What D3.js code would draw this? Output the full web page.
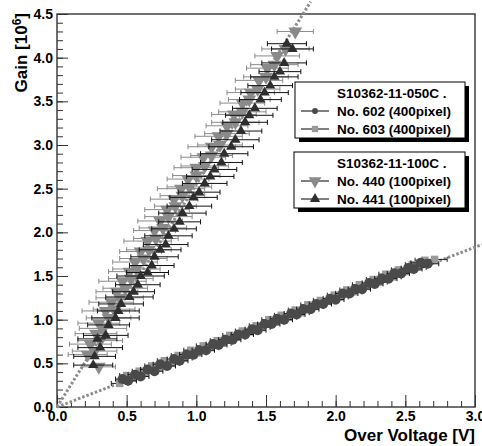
<!DOCTYPE html>
<html>
<head>
<meta charset="utf-8">
<script src="https://cdn.jsdelivr.net/npm/d3@7"></script>
<style>
  body { margin: 0; background: #fff; }
  text { font-family: "Liberation Sans", Arial, Helvetica, sans-serif; font-weight: bold; }
</style>
</head>
<body>
<div id="d3-container"></div>
<script>
/**
 * CONSTANTS AND GLOBALS
 * */
const width = 482,
  height = 446,
  margin = { top: 14, bottom: 39, left: 57, right: 7 };

/**
 * DATA  [over voltage (V), gain (10^6), x error (V)]
 * */
// S10362-11-050C, No. 602 (400pixel)
const no602 = [
  [0.47,0.32,0.05],[0.51,0.30,0.06],[0.56,0.37,0.05],[0.60,0.35,0.06],[0.65,0.43,0.05],[0.70,0.41,0.06],
  [0.74,0.49,0.05],[0.79,0.47,0.06],[0.84,0.55,0.05],[0.88,0.53,0.06],[0.93,0.60,0.05],[0.98,0.60,0.06],
  [1.02,0.65,0.05],[1.07,0.65,0.06],[1.12,0.72,0.05],[1.16,0.71,0.06],[1.21,0.77,0.05],[1.26,0.77,0.06],
  [1.30,0.83,0.05],[1.35,0.83,0.06],[1.40,0.89,0.05],[1.44,0.88,0.06],[1.49,0.95,0.05],[1.54,0.95,0.06],
  [1.58,1.01,0.05],[1.63,1.00,0.06],[1.68,1.07,0.05],[1.72,1.06,0.06],[1.77,1.12,0.05],[1.82,1.12,0.06],
  [1.86,1.18,0.05],[1.91,1.18,0.06],[1.96,1.24,0.05],[2.00,1.23,0.06],[2.05,1.30,0.05],[2.10,1.30,0.06],
  [2.14,1.35,0.05],[2.19,1.35,0.06],[2.24,1.42,0.05],[2.28,1.41,0.06],[2.33,1.47,0.05],[2.38,1.47,0.06],
  [2.42,1.53,0.05],[2.47,1.53,0.06],[2.52,1.59,0.05],[2.56,1.58,0.06],[2.61,1.65,0.07],[2.66,1.64,0.08]
];
// S10362-11-050C, No. 603 (400pixel)
const no603 = [
  [0.45,0.27,0.06],[0.50,0.36,0.05],[0.54,0.33,0.06],[0.59,0.41,0.05],[0.63,0.39,0.06],[0.68,0.47,0.05],
  [0.73,0.45,0.06],[0.77,0.53,0.05],[0.82,0.50,0.06],[0.87,0.59,0.05],[0.91,0.56,0.06],[0.96,0.65,0.05],
  [1.01,0.62,0.06],[1.05,0.70,0.05],[1.10,0.68,0.06],[1.15,0.76,0.05],[1.19,0.73,0.06],[1.24,0.82,0.05],
  [1.29,0.80,0.06],[1.33,0.87,0.05],[1.38,0.86,0.06],[1.43,0.93,0.05],[1.47,0.91,0.06],[1.52,1.00,0.05],
  [1.57,0.97,0.06],[1.61,1.05,0.05],[1.66,1.03,0.06],[1.71,1.11,0.05],[1.75,1.08,0.06],[1.80,1.17,0.05],
  [1.85,1.15,0.06],[1.89,1.22,0.05],[1.94,1.21,0.06],[1.99,1.28,0.05],[2.03,1.26,0.06],[2.08,1.34,0.05],
  [2.13,1.32,0.06],[2.17,1.40,0.05],[2.22,1.38,0.06],[2.27,1.46,0.05],[2.31,1.43,0.06],[2.36,1.52,0.05],
  [2.41,1.49,0.06],[2.45,1.57,0.05],[2.50,1.55,0.06],[2.55,1.63,0.05],[2.59,1.60,0.06],[2.64,1.68,0.07],
  [2.71,1.69,0.09]
];
// S10362-11-100C, No. 440 (100pixel)
const no440 = [
  [0.30,0.46,0.12],[0.22,0.60,0.14],[0.27,0.64,0.16],[0.24,0.72,0.15],[0.31,0.76,0.16],[0.28,0.84,0.15],
  [0.33,0.90,0.17],[0.30,0.96,0.15],[0.37,1.02,0.16],[0.35,1.10,0.17],[0.41,1.12,0.15],[0.39,1.20,0.16],
  [0.45,1.25,0.17],[0.43,1.32,0.15],[0.49,1.36,0.16],[0.47,1.44,0.17],[0.53,1.47,0.16],[0.52,1.55,0.15],
  [0.57,1.58,0.17],[0.56,1.66,0.16],[0.62,1.70,0.17],[0.60,1.78,0.15],[0.66,1.80,0.16],[0.65,1.90,0.17],
  [0.71,1.93,0.16],[0.70,2.02,0.15],[0.76,2.05,0.17],[0.74,2.13,0.16],[0.80,2.18,0.17],[0.79,2.26,0.16],
  [0.85,2.30,0.15],[0.84,2.38,0.17],[0.90,2.42,0.16],[0.89,2.50,0.17],[0.95,2.52,0.16],[0.94,2.61,0.15],
  [1.00,2.65,0.17],[1.00,2.74,0.16],[1.06,2.76,0.17],[1.05,2.86,0.16],[1.11,2.88,0.15],[1.11,2.98,0.17],
  [1.17,3.00,0.16],[1.16,3.10,0.17],[1.22,3.13,0.16],[1.22,3.22,0.15],[1.28,3.26,0.17],[1.27,3.35,0.16],
  [1.33,3.38,0.17],[1.33,3.48,0.16],[1.38,3.52,0.15],[1.39,3.60,0.17],[1.44,3.64,0.16],[1.45,3.74,0.17],
  [1.50,3.78,0.16],[1.51,3.88,0.15],[1.56,3.92,0.17],[1.58,4.02,0.16],[1.64,4.10,0.17],[1.71,4.30,0.13]
];
// S10362-11-100C, No. 441 (100pixel)
const no441 = [
  [0.26,0.48,0.14],[0.27,0.58,0.15],[0.31,0.68,0.16],[0.29,0.78,0.14],[0.35,0.82,0.16],[0.37,0.94,0.15],
  [0.42,1.02,0.17],[0.44,1.10,0.15],[0.46,1.18,0.16],[0.52,1.26,0.17],[0.55,1.32,0.15],[0.58,1.40,0.16],
  [0.60,1.50,0.17],[0.65,1.54,0.15],[0.68,1.62,0.16],[0.70,1.72,0.17],[0.74,1.80,0.15],[0.78,1.86,0.16],
  [0.80,1.96,0.17],[0.84,2.04,0.16],[0.88,2.12,0.15],[0.90,2.22,0.17],[0.95,2.30,0.16],[0.98,2.40,0.17],
  [1.02,2.46,0.15],[1.06,2.56,0.16],[1.10,2.64,0.17],[1.13,2.72,0.16],[1.18,2.80,0.15],[1.20,2.90,0.17],
  [1.25,2.98,0.16],[1.28,3.06,0.17],[1.32,3.16,0.15],[1.35,3.26,0.16],[1.38,3.34,0.17],[1.42,3.42,0.16],
  [1.46,3.52,0.15],[1.49,3.60,0.17],[1.53,3.68,0.16],[1.56,3.78,0.17],[1.60,3.84,0.15],[1.63,3.94,0.16],
  [1.65,4.16,0.14],[1.69,4.10,0.15]
];

// linear fits (dotted), endpoints [V, gain]
const fit100 = [[0, 0], [1.82, 4.64]];
const fit400 = [[0, 0], [3.05, 1.86]];

// axis ticks
const xMajor = [0, 0.5, 1.0, 1.5, 2.0, 2.5, 3.0];
const yMajor = [0, 0.5, 1.0, 1.5, 2.0, 2.5, 3.0, 3.5, 4.0, 4.5];

// legends
const legendTitles = ["S10362-11-050C .", "S10362-11-100C ."];
const legendLabels = [
  ["No. 602 (400pixel)", "No. 603 (400pixel)"],
  ["No. 440 (100pixel)", "No. 441 (100pixel)"]
];

/**
 * STYLES
 * */
const styles = {
  no602: { symbol: d3.symbolCircle, size: 80, legSize: 28, fill: "#4a4a4a", err: "#111", rot: 0 },
  no603: { symbol: d3.symbolSquare, size: 56, legSize: 40, fill: "#999", err: "#222", rot: 0 },
  no440: { symbol: d3.symbolTriangle, size: 82, legSize: 70, fill: "#8a8a8a", err: "#8a8a8a", rot: 180 },
  no441: { symbol: d3.symbolTriangle, size: 46, legSize: 46, fill: "#2e2e2e", err: "#111", rot: 0 }
};

const labelFont = "'Liberation Sans', Arial, sans-serif";

/**
 * INIT
 * */
const svg = d3.select("#d3-container")
  .append("svg")
  .attr("width", width)
  .attr("height", height);

const x = d3.scaleLinear().domain([0, 3]).range([margin.left, width - margin.right]);
const y = d3.scaleLinear().domain([0, 4.5]).range([height - margin.bottom, margin.top]);

// minor ticks
const xMinor = d3.range(0, 3.0001, 0.1);
const yMinor = d3.range(0, 4.5001, 0.1);

svg.append("g")
  .attr("transform", `translate(0,${y(0)})`)
  .call(d3.axisBottom(x).tickValues(xMinor).tickSize(-6).tickFormat(""))
  .call(g => g.select(".domain").remove())
  .call(g => g.selectAll("line").attr("stroke", "#333"));

svg.append("g")
  .attr("transform", `translate(${x(0)},0)`)
  .call(d3.axisLeft(y).tickValues(yMinor).tickSize(-6).tickFormat(""))
  .call(g => g.select(".domain").remove())
  .call(g => g.selectAll("line").attr("stroke", "#333"));

// major ticks + labels
svg.append("g")
  .attr("transform", `translate(0,${y(0)})`)
  .call(d3.axisBottom(x).tickValues(xMajor).tickSize(-12).tickPadding(4).tickFormat(d3.format(".1f")))
  .call(g => g.select(".domain").remove())
  .call(g => g.selectAll("line").attr("stroke", "#333"))
  .call(g => g.selectAll("text").attr("fill", "#000").style("font-size", "14px")
    .style("font-family", labelFont).style("font-weight", "bold"));

svg.append("g")
  .attr("transform", `translate(${x(0)},0)`)
  .call(d3.axisLeft(y).tickValues(yMajor).tickSize(-11).tickPadding(4).tickFormat(d3.format(".1f")))
  .call(g => g.select(".domain").remove())
  .call(g => g.selectAll("line").attr("stroke", "#333"))
  .call(g => g.selectAll("text").attr("fill", "#000").style("font-size", "14px")
    .style("font-family", labelFont).style("font-weight", "bold"));

// frame
svg.append("rect")
  .attr("x", x(0))
  .attr("y", y(4.5))
  .attr("width", x(3) - x(0))
  .attr("height", y(0) - y(4.5))
  .attr("fill", "none")
  .attr("stroke", "#333")
  .attr("stroke-width", 1.4);

// axis titles
svg.append("text")
  .attr("x", x(3))
  .attr("y", 441)
  .attr("text-anchor", "end")
  .style("font-size", "17px")
  .text("Over Voltage [V]");

const gainLabel = svg.append("text")
  .attr("transform", `translate(27,${y(4.5) - 1}) rotate(-90)`)
  .attr("text-anchor", "end")
  .style("font-size", "17px");
gainLabel.append("tspan").text("Gain [10");
gainLabel.append("tspan").attr("dy", -6).style("font-size", "12px").text("6");
gainLabel.append("tspan").attr("dy", 6).text("]");

// fit lines
const line = d3.line().x(d => x(d[0])).y(d => y(d[1]));
[fit100, fit400].forEach(f => {
  svg.append("path")
    .attr("d", line(f))
    .attr("fill", "none")
    .attr("stroke", "#8c8c8c")
    .attr("stroke-width", 3)
    .attr("stroke-dasharray", "2.5,2");
});

// data series
function drawSeries(data, st) {
  const g = svg.append("g");
  const eb = g.append("g")
    .attr("stroke", st.err)
    .attr("stroke-width", 1)
    .selectAll("g")
    .data(data)
    .join("g");
  eb.append("line")
    .attr("x1", d => x(d[0] - d[2]))
    .attr("x2", d => x(d[0] + d[2]))
    .attr("y1", d => y(d[1]))
    .attr("y2", d => y(d[1]));
  eb.append("line")
    .attr("x1", d => x(d[0] - d[2]))
    .attr("x2", d => x(d[0] - d[2]))
    .attr("y1", d => y(d[1]) - 2.5)
    .attr("y2", d => y(d[1]) + 2.5);
  eb.append("line")
    .attr("x1", d => x(d[0] + d[2]))
    .attr("x2", d => x(d[0] + d[2]))
    .attr("y1", d => y(d[1]) - 2.5)
    .attr("y2", d => y(d[1]) + 2.5);

  g.append("g")
    .selectAll("path")
    .data(data)
    .join("path")
    .attr("d", d3.symbol().type(st.symbol).size(st.size))
    .attr("transform", d => `translate(${x(d[0])},${y(d[1])}) rotate(${st.rot})`)
    .attr("fill", st.fill);
}

drawSeries(no603, styles.no603);
drawSeries(no602, styles.no602);
drawSeries(no440, styles.no440);
drawSeries(no441, styles.no441);

// legends
const legendBoxes = [
  { x: 295, y: 82, w: 170, h: 56, style: [styles.no602, styles.no603] },
  { x: 294, y: 152, w: 171, h: 56, style: [styles.no440, styles.no441] }
];

legendBoxes.forEach((b, i) => {
  const lg = svg.append("g");
  lg.append("rect")
    .attr("x", b.x + 4).attr("y", b.y + 4)
    .attr("width", b.w).attr("height", b.h)
    .attr("fill", "#000");
  lg.append("rect")
    .attr("x", b.x).attr("y", b.y)
    .attr("width", b.w).attr("height", b.h)
    .attr("fill", "#fff")
    .attr("stroke", "#000")
    .attr("stroke-width", 1);
  lg.append("text")
    .attr("x", 337).attr("y", b.y + 16)
    .style("font-size", "13.5px")
    .text(legendTitles[i]);
  legendLabels[i].forEach((lab, j) => {
    const cy = b.y + 29 + j * 18;
    const st = b.style[j];
    lg.append("line")
      .attr("x1", 301).attr("x2", 329)
      .attr("y1", cy).attr("y2", cy)
      .attr("stroke", "#000").attr("stroke-width", 1);
    lg.append("path")
      .attr("d", d3.symbol().type(st.symbol).size(st.legSize))
      .attr("transform", `translate(315,${cy}) rotate(${st.rot})`)
      .attr("fill", st.fill);
    lg.append("text")
      .attr("x", 337).attr("y", cy + 5)
      .style("font-size", "13.5px")
      .text(lab);
  });
});
</script>
</body>
</html>
